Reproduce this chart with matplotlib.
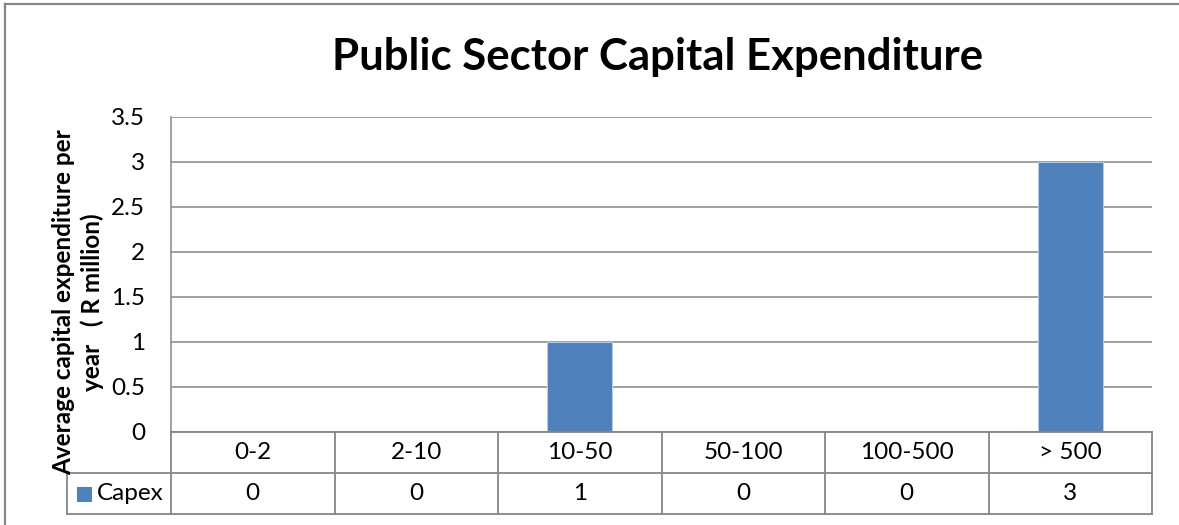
import matplotlib
matplotlib.use("Agg")
import matplotlib.pyplot as plt
from matplotlib.patches import Rectangle
from matplotlib.lines import Line2D

# ---- data ----
categories = ["0-2", "2-10", "10-50", "50-100", "100-500", "> 500"]
capex = [0, 0, 1, 0, 0, 3]
series_name = "Capex"
yticks = [0, 0.5, 1, 1.5, 2, 2.5, 3, 3.5]
ytick_labels = ["0", "0.5", "1", "1.5", "2", "2.5", "3", "3.5"]
title = "Public Sector Capital Expenditure"
ylabel = "Average capital expenditure per\nyear   ( R million)"

# ---- style ----
BAR_COLOR = "#4F81BD"
BAR_EDGE = "#B9CDE5"
LINE_COLOR = "#868686"
TXT = 17.5
plt.rcParams['font.family'] = ['Lato', 'DejaVu Sans']

W, H = 1179, 525
fig = plt.figure(figsize=(W / 100, H / 100), dpi=100)


def px(x0, y0, x1, y1):
    """Pixel box (top-left origin) -> figure-fraction rect."""
    return [x0 / W, 1 - y1 / H, (x1 - x0) / W, (y1 - y0) / H]


# chart-area border (top and left edges)
fig.add_artist(Line2D([5 / W, 1], [1 - 4 / H, 1 - 4 / H], transform=fig.transFigure,
                      color=LINE_COLOR, lw=1.6))
fig.add_artist(Line2D([5 / W, 5 / W], [0, 1 - 4 / H], transform=fig.transFigure,
                      color=LINE_COLOR, lw=1.6))

# ---- plot area ----
ax = fig.add_axes(px(171, 116.5, 1152, 432))
xpos = list(range(len(categories)))
ax.bar(xpos, capex, width=0.4, color=BAR_COLOR, edgecolor=BAR_EDGE, linewidth=0.7, zorder=3)
ax.set_xlim(-0.5, len(categories) - 0.5)
ax.set_ylim(yticks[0], yticks[-1])
ax.set_yticks(yticks)
ax.set_yticklabels(ytick_labels)
ax.set_xticks([])
ax.tick_params(axis="y", length=0, pad=18.5, labelsize=TXT, labelcolor="black")
ax.yaxis.grid(True, color=LINE_COLOR, lw=1.1, zorder=1)
ax.set_axisbelow(True)
for side in ("top", "right", "bottom"):
    ax.spines[side].set_visible(False)
ax.spines["left"].set_color(LINE_COLOR)
ax.spines["left"].set_linewidth(1.1)

fig.text(658 / W, 1 - 57 / H, title, ha="center", va="center",
         fontsize=31.5, fontweight="bold")
fig.text(78 / W, 1 - 302 / H, ylabel, ha="center", va="center", rotation=90,
         fontsize=TXT, fontweight="bold", multialignment="center", linespacing=1.3)

# ---- data table ----
tax = fig.add_axes(px(171, 432, 1152, 514))
tax.set_xlim(-0.5, len(categories) - 0.5)
tax.set_ylim(2, 0)
tax.axis("off")
col_w_px = (1152 - 171) / len(categories)
left_x = -0.5 - (171 - 67) / col_w_px
right_x = len(categories) - 0.5

kw = dict(color=LINE_COLOR, lw=1.3, clip_on=False)
tax.plot([-0.5, right_x], [0, 0], **kw)
tax.plot([left_x, right_x], [1, 1], **kw)
tax.plot([left_x, right_x], [2, 2], **kw)
tax.plot([left_x, left_x], [1, 2], **kw)
for k in range(len(categories) + 1):
    tax.plot([k - 0.5, k - 0.5], [0, 2], **kw)

for i, (cat, val) in enumerate(zip(categories, capex)):
    tax.text(i, 0.5, cat, ha="center", va="center", fontsize=TXT)
    tax.text(i, 1.5, f"{val:g}", ha="center", va="center", fontsize=TXT)

key_x = -0.5 - (171 - 77) / col_w_px
key_w = 15 / col_w_px
tax.add_patch(Rectangle((key_x, 1 + 14 / 41), key_w, 15 / 41, facecolor=BAR_COLOR,
                        edgecolor="none", clip_on=False))
tax.text(-0.5 - (171 - 97) / col_w_px, 1.5, series_name, ha="left", va="center", fontsize=TXT)

fig.savefig("out.png", dpi=100)
